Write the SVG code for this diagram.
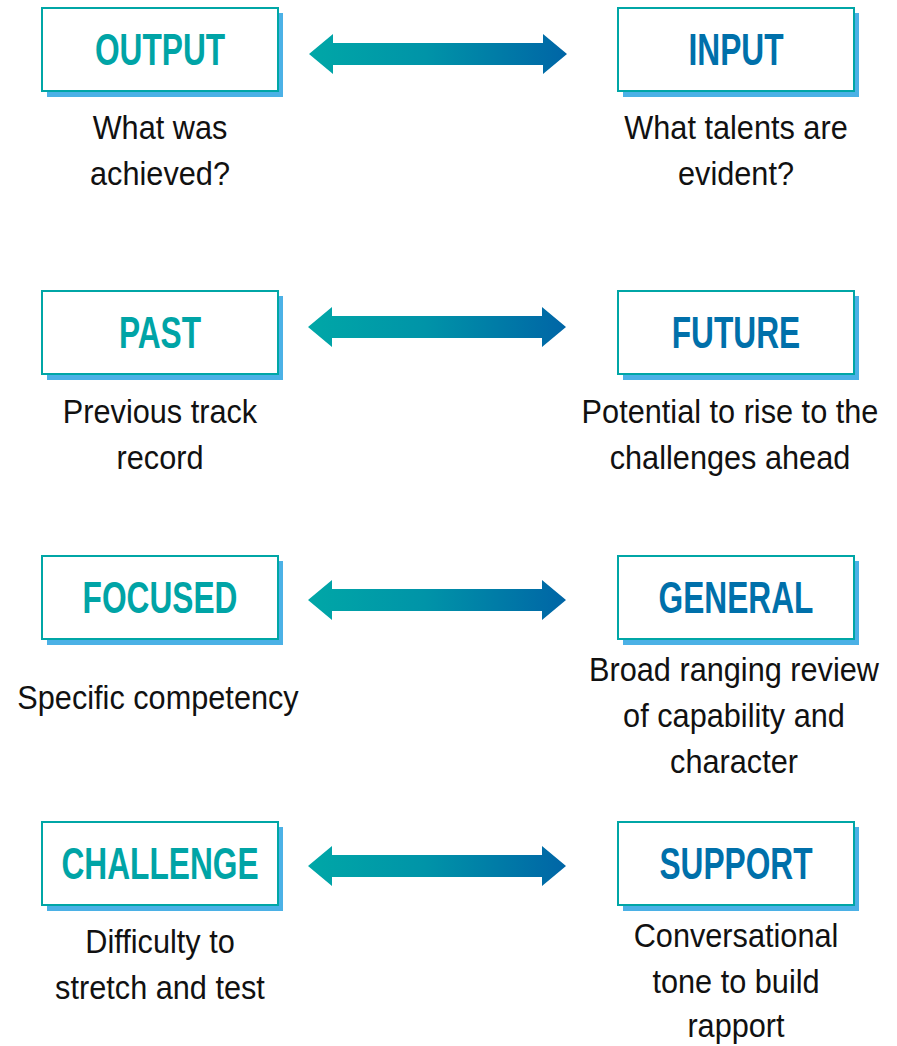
<svg xmlns="http://www.w3.org/2000/svg" width="897" height="1046" viewBox="0 0 897 1046">
  <defs>
    <linearGradient id="arrowGrad" x1="0" y1="0" x2="1" y2="0">
      <stop offset="0" stop-color="#00A7A7"/>
      <stop offset="0.45" stop-color="#0094A8"/>
      <stop offset="1" stop-color="#0065A6"/>
    </linearGradient>
    <!-- double-headed arrow, centred on its own origin -->
    <path id="dblArrow" d="M-129,0 L-105,-20 L-105,-11 L105,-11 L105,-20 L129,0 L105,20 L105,11 L-105,11 L-105,20 Z" fill="url(#arrowGrad)"/>
  </defs>
  <style>
    .shadow { fill: #4BB1E6; }
    .box { fill: #FFFFFF; stroke: #00A6A6; stroke-width: 2; }
    .title { font-family: "Liberation Sans", Arial, sans-serif; font-weight: bold; font-size: 44px; text-anchor: middle; }
    .teal { fill: #00A4A6; }
    .blue { fill: #0070AA; }
    .body { font-family: "Liberation Sans", Arial, sans-serif; font-size: 33px; fill: #111111; text-anchor: middle; }
  </style>
  <rect width="897" height="1046" fill="#FFFFFF"/>

  <!-- connectors -->
  <g id="connectors">
    <use href="#dblArrow" x="438" y="54"/>
    <use href="#dblArrow" x="437" y="327"/>
    <use href="#dblArrow" x="437" y="600"/>
    <use href="#dblArrow" x="437" y="866"/>
  </g>

  <!-- row 1 -->
  <g id="output">
    <rect class="shadow" x="47" y="13" width="236" height="84"/>
    <rect class="box" x="42" y="8" width="236" height="83"/>
    <text class="title teal" transform="translate(160,65) scale(0.72,1)">OUTPUT</text>
    <text class="body" transform="translate(160,139) scale(0.93,1)">What was</text>
    <text class="body" transform="translate(160,185) scale(0.93,1)">achieved?</text>
  </g>
  <g id="input">
    <rect class="shadow" x="623" y="13" width="236" height="84"/>
    <rect class="box" x="618" y="8" width="236" height="83"/>
    <text class="title blue" transform="translate(736,65) scale(0.72,1)">INPUT</text>
    <text class="body" transform="translate(736,139) scale(0.93,1)">What talents are</text>
    <text class="body" transform="translate(736,185) scale(0.93,1)">evident?</text>
  </g>

  <!-- row 2 -->
  <g id="past">
    <rect class="shadow" x="47" y="296" width="236" height="84"/>
    <rect class="box" x="42" y="291" width="236" height="83"/>
    <text class="title teal" transform="translate(160,348) scale(0.72,1)">PAST</text>
    <text class="body" transform="translate(160,423) scale(0.93,1)">Previous track</text>
    <text class="body" transform="translate(160,469) scale(0.93,1)">record</text>
  </g>
  <g id="future">
    <rect class="shadow" x="623" y="296" width="236" height="84"/>
    <rect class="box" x="618" y="291" width="236" height="83"/>
    <text class="title blue" transform="translate(736,348) scale(0.72,1)">FUTURE</text>
    <text class="body" transform="translate(730,423) scale(0.93,1)">Potential to rise to the</text>
    <text class="body" transform="translate(730,469) scale(0.93,1)">challenges ahead</text>
  </g>

  <!-- row 3 -->
  <g id="focused">
    <rect class="shadow" x="47" y="561" width="236" height="84"/>
    <rect class="box" x="42" y="556" width="236" height="83"/>
    <text class="title teal" transform="translate(160,613) scale(0.72,1)">FOCUSED</text>
    <text class="body" transform="translate(158,709) scale(0.93,1)">Specific competency</text>
  </g>
  <g id="general">
    <rect class="shadow" x="623" y="561" width="236" height="84"/>
    <rect class="box" x="618" y="556" width="236" height="83"/>
    <text class="title blue" transform="translate(736,613) scale(0.72,1)">GENERAL</text>
    <text class="body" transform="translate(734,681) scale(0.93,1)">Broad ranging review</text>
    <text class="body" transform="translate(734,727) scale(0.93,1)">of capability and</text>
    <text class="body" transform="translate(734,773) scale(0.93,1)">character</text>
  </g>

  <!-- row 4 -->
  <g id="challenge">
    <rect class="shadow" x="47" y="827" width="236" height="84"/>
    <rect class="box" x="42" y="822" width="236" height="83"/>
    <text class="title teal" transform="translate(160,879) scale(0.72,1)">CHALLENGE</text>
    <text class="body" transform="translate(160,953) scale(0.93,1)">Difficulty to</text>
    <text class="body" transform="translate(160,999) scale(0.93,1)">stretch and test</text>
  </g>
  <g id="support">
    <rect class="shadow" x="623" y="827" width="236" height="84"/>
    <rect class="box" x="618" y="822" width="236" height="83"/>
    <text class="title blue" transform="translate(736,879) scale(0.72,1)">SUPPORT</text>
    <text class="body" transform="translate(736,947) scale(0.93,1)">Conversational</text>
    <text class="body" transform="translate(736,993) scale(0.93,1)">tone to build</text>
    <text class="body" transform="translate(736,1037) scale(0.93,1)">rapport</text>
  </g>
</svg>
